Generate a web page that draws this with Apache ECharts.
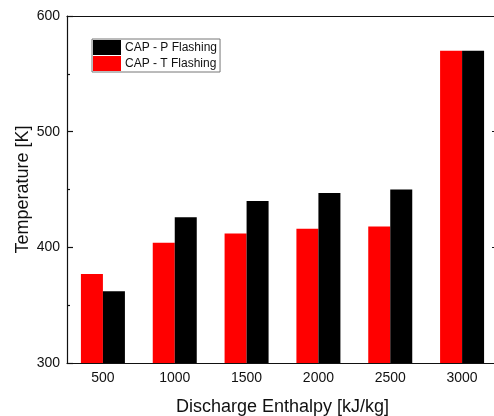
<!DOCTYPE html>
<html>
<head>
<meta charset="utf-8">
<script src="https://cdn.jsdelivr.net/npm/echarts@6/dist/echarts.min.js"></script>
<style>
  html, body { margin: 0; padding: 0; background: #fff; }
  #chart { width: 494px; height: 416px; }
</style>
</head>
<body>
<div id="chart"></div>
<script>
// Discharge enthalpy cases (kJ/kg)
const categories = ['500', '1000', '1500', '2000', '2500', '3000'];
// Outlet temperature (K) for each flashing model
const tFlashing = [377, 404, 412, 416, 418, 570];
const pFlashing = [362, 426, 440, 447, 450, 570];
const yTicks = { min: 300, max: 600, step: 100 };

const FONT = '"Liberation Sans", Arial, sans-serif';
const INK = '#111';

const chart = echarts.init(document.getElementById('chart'), null, { renderer: 'canvas' });

const lineStyle = { color: INK, width: 1.2 };

chart.setOption({
  animation: false,
  backgroundColor: '#fff',
  grid: {
    left: 67, top: 16, width: 431, height: 347,
    containLabel: false, outerBoundsMode: 'none'
  },
  legend: {
    orient: 'vertical',
    left: 92, top: 39,
    data: ['CAP - P Flashing', 'CAP - T Flashing'],
    icon: 'rect',
    itemWidth: 28, itemHeight: 15, itemGap: 1,
    padding: [1, 3, 1, 1],
    borderColor: '#777', borderWidth: 1,
    textStyle: { fontFamily: FONT, fontSize: 12, color: INK, padding: [0, 0, 0, -1] }
  },
  xAxis: [
    {
      type: 'category', position: 'bottom', data: categories,
      name: 'Discharge Enthalpy [kJ/kg]', nameLocation: 'middle', nameGap: 35,
      nameMoveOverlap: false,
      nameTextStyle: { fontFamily: FONT, fontSize: 18, color: INK },
      axisLine: { lineStyle },
      axisTick: { inside: true, length: 3, lineStyle },
      axisLabel: { fontFamily: FONT, fontSize: 14, color: INK, margin: 8 },
      splitLine: { show: false }
    },
    {
      type: 'category', position: 'top', data: categories,
      axisLine: { lineStyle },
      axisTick: { inside: true, length: 6, alignWithLabel: true, lineStyle },
      axisLabel: { show: false }, splitLine: { show: false }
    },
    {
      type: 'category', position: 'top', data: categories,
      axisLine: { show: false },
      axisTick: { inside: true, length: 3, lineStyle },
      axisLabel: { show: false }, splitLine: { show: false }
    }
  ],
  yAxis: [
    {
      type: 'value', position: 'left',
      min: yTicks.min, max: yTicks.max, interval: yTicks.step,
      name: 'Temperature [K]', nameLocation: 'middle', nameGap: 35,
      nameMoveOverlap: false,
      nameTextStyle: { fontFamily: FONT, fontSize: 18, color: INK },
      axisLine: { show: true, lineStyle },
      axisTick: { show: true, inside: true, length: 6, lineStyle },
      minorTick: { show: true, splitNumber: 2, length: 3, lineStyle },
      axisLabel: { fontFamily: FONT, fontSize: 14, color: INK, margin: 7 },
      splitLine: { show: false }
    },
    {
      type: 'value', position: 'right',
      min: yTicks.min, max: yTicks.max, interval: yTicks.step,
      axisLine: { show: false },
      axisTick: { show: true, inside: true, length: 6, lineStyle },
      minorTick: { show: true, splitNumber: 2, length: 3, lineStyle },
      axisLabel: { show: false },
      splitLine: { show: false }
    }
  ],
  series: [
    {
      name: 'CAP - T Flashing', type: 'bar', data: tFlashing,
      xAxisIndex: 0, yAxisIndex: 0,
      barWidth: 22, barGap: '0%',
      itemStyle: { color: '#ff0000' }
    },
    {
      name: 'CAP - P Flashing', type: 'bar', data: pFlashing,
      xAxisIndex: 0, yAxisIndex: 0,
      barWidth: 22, barGap: '0%',
      itemStyle: { color: '#000000' }
    }
  ]
});
</script>
</body>
</html>
